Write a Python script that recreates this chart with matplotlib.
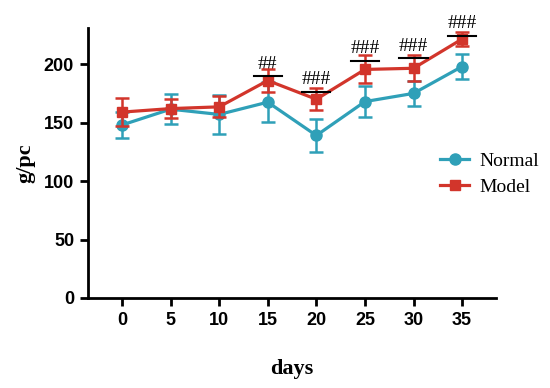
import matplotlib
matplotlib.use("Agg")
import matplotlib.pyplot as plt
from matplotlib.lines import Line2D

days = [0, 5, 10, 15, 20, 25, 30, 35]
normal_mean = [148, 161.5, 157, 167.5, 139, 168, 175, 198]
normal_err = [11, 13, 17, 17, 14, 13.5, 11, 10.5]
model_mean = [159, 162, 163.5, 186, 170, 195.5, 196.5, 221.5]
model_err = [12, 8, 9, 10, 9.5, 12, 11, 6]

sig_days = [15, 20, 25, 30, 35]
sig_bar = [190, 176, 202.5, 205, 224]
sig_text_y = [200, 187, 213, 215, 235]
sig_labels = ["##", "###", "###", "###", "###"]

teal = "#2fa0b8"
red = "#d2352b"

fig = plt.figure(figsize=(5.5, 3.88), dpi=100)
ax = fig.add_axes([0.16, 0.232, 0.742, 0.696])

ax.errorbar(days, normal_mean, yerr=normal_err, color=teal, lw=2.3, marker="o",
            ms=8, capsize=5, capthick=1.8, elinewidth=1.8, zorder=3)
ax.errorbar(days, model_mean, yerr=model_err, color=red, lw=2.3, marker="s",
            ms=7.5, capsize=5, capthick=1.8, elinewidth=1.8, zorder=4)

for d, b, ty, lab in zip(sig_days, sig_bar, sig_text_y, sig_labels):
    ax.plot([d - 1.45, d + 1.45], [b, b], color="black", lw=1.5, zorder=5)
    ax.text(d, ty, lab, ha="center", va="center", fontsize=14,
            family="Liberation Serif", color="black", clip_on=False)

ax.set_xlim(-3.5, 38.5)
ax.set_ylim(0, 231)
ax.set_xticks(days)
ax.set_yticks([0, 50, 100, 150, 200])
for s in ["top", "right"]:
    ax.spines[s].set_visible(False)
for s in ["left", "bottom"]:
    ax.spines[s].set_linewidth(2)
ax.tick_params(width=2, length=6, labelsize=13, pad=4)
for lab in ax.get_xticklabels() + ax.get_yticklabels():
    lab.set_family("Liberation Sans")
    lab.set_fontweight("bold")

ax.set_xlabel("days", family="Liberation Serif", fontweight="bold", fontsize=16, labelpad=22)
ax.set_ylabel("g/pc", family="Liberation Serif", fontweight="bold", fontsize=16, labelpad=6)

handles = [Line2D([], [], color=teal, lw=2.3, marker="o", ms=8),
           Line2D([], [], color=red, lw=2.3, marker="s", ms=7.5)]
leg = ax.legend(handles, ["Normal", "Model"], loc="center left",
                bbox_to_anchor=(0.82, 0.458), frameon=False,
                prop={"family": "Liberation Serif", "size": 14}, handlelength=1.5,
                handletextpad=0.5, labelspacing=0.45)

fig.savefig("out.png", dpi=100)
